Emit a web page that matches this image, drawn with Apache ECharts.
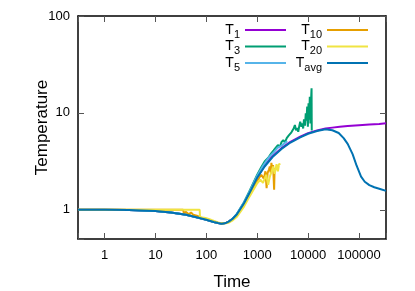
<!DOCTYPE html>
<html>
<head>
<meta charset="utf-8">
<script src="https://cdn.jsdelivr.net/npm/echarts@6/dist/echarts.min.js"></script>
<style>
html,body{margin:0;padding:0;background:#fff;}
#c{width:415px;height:291px;}
</style>
</head>
<body>
<div id="c"></div>
<script>
// ---- data ----
var timeAvg = [0.3, 1, 3, 10, 20, 40, 70, 100, 140, 170, 200, 240, 280, 330, 400, 550, 700, 1000, 1400, 2000, 3000, 4500, 7000, 10000, 15000, 22000, 30000, 40000, 50000, 60000, 75000, 90000, 110000, 130000, 160000, 200000, 260000, 340000];
var tAvg    = [1.0, 1.0, 0.995, 0.97, 0.94, 0.89, 0.83, 0.79, 0.75, 0.73, 0.72, 0.73, 0.76, 0.81, 0.9, 1.17, 1.48, 2.15, 2.8, 3.5, 4.25, 4.95, 5.6, 6.1, 6.5, 6.78, 6.62, 6.2, 5.5, 4.8, 3.75, 2.85, 2.2, 1.95, 1.8, 1.71, 1.64, 1.57];

var timeT1 = [0.3, 1, 3, 10, 20, 40, 70, 100, 140, 170, 200, 240, 280, 330, 400, 550, 700, 1000, 1400, 2000, 3000, 4500, 7000, 10000, 15000, 22000, 30000, 42000, 60000, 100000, 160000, 250000, 340000];
var t1     = [1.0, 1.0, 0.995, 0.97, 0.94, 0.89, 0.83, 0.79, 0.75, 0.73, 0.72, 0.73, 0.76, 0.81, 0.9, 1.17, 1.48, 2.17, 2.87, 3.58, 4.33, 5.03, 5.68, 6.18, 6.6, 6.9, 7.05, 7.2, 7.33, 7.48, 7.6, 7.7, 7.8];

var timeT3 = [0.3, 1, 3, 10, 20, 40, 70, 100, 140, 170, 200, 240, 280, 330, 400, 550, 700, 1000, 1200, 1400, 1650, 1900, 2100, 2300, 2550, 2800, 3000, 3250, 3500, 3800, 4100, 4400, 4700, 5000, 5200, 5500, 5800, 6100, 6400, 6700, 7000, 7400, 7700, 8000, 8300, 8700, 9000, 9300, 9600, 9900, 10200, 10500, 10800, 11100, 11400, 11700, 11800];
var t3     = [1.0, 1.0, 0.995, 0.97, 0.94, 0.89, 0.83, 0.79, 0.75, 0.73, 0.72, 0.73, 0.76, 0.81, 0.91, 1.2, 1.55, 2.3, 2.75, 3.15, 3.45, 3.85, 4.1, 4.35, 4.65, 4.5, 5.0, 5.25, 4.95, 5.5, 5.8, 5.6, 6.3, 6.1, 6.9, 7.5, 6.6, 7.0, 6.4, 7.3, 8.1, 7.2, 7.8, 6.9, 8.6, 7.4, 9.9, 8.3, 11.6, 7.2, 12.6, 8.5, 14.7, 7.8, 13.0, 18.0, 6.6];

var timeT5 = [0.3, 1, 3, 10, 20, 40, 70, 100, 140, 170, 200, 240, 280, 330, 400, 550, 700, 1000, 1300, 1700, 2100, 2500, 3000, 3500, 3900];
var t5     = [1.0, 1.0, 0.995, 0.97, 0.94, 0.89, 0.83, 0.79, 0.75, 0.73, 0.72, 0.73, 0.76, 0.81, 0.91, 1.19, 1.52, 2.25, 2.85, 3.5, 3.9, 4.35, 4.6, 4.9, 5.1];

var timeT10 = [0.3, 1, 3, 10, 20, 35, 36, 40, 45, 50, 55, 60, 65, 70, 80, 100, 140, 170, 200, 240, 280, 330, 400, 550, 700, 1000, 1200, 1350, 1450, 1530, 1600, 1700, 1770, 1850, 1900, 1980, 2050, 2100, 2150, 2200];
var t10     = [1.0, 1.0, 1.0, 1.0, 1.0, 1.0, 0.93, 0.95, 0.9, 0.94, 0.89, 0.92, 0.87, 0.86, 0.83, 0.8, 0.76, 0.735, 0.725, 0.73, 0.75, 0.8, 0.87, 1.12, 1.42, 2.0, 2.3, 2.1, 2.5, 1.67, 2.4, 2.6, 2.8, 2.4, 3.05, 2.6, 2.9, 3.0, 1.61, 2.7];

var timeT20 = [0.3, 1, 3, 10, 20, 40, 74, 75, 80, 90, 100, 115, 130, 150, 170, 200, 240, 280, 330, 400, 550, 700, 850, 1000, 1150, 1300, 1400, 1500, 1640, 1770, 1900, 2060, 2200, 2400, 2550, 2700, 2800];
var t20     = [1, 1, 1, 1, 1, 1, 1, 0.84, 0.86, 0.83, 0.82, 0.8, 0.78, 0.76, 0.74, 0.725, 0.725, 0.74, 0.78, 0.85, 1.08, 1.36, 1.62, 1.88, 2.05, 1.9, 1.96, 2.3, 1.81, 2.2, 2.45, 2.8, 2.35, 2.95, 2.5, 3.0, 2.9];

var seriesNames  = ['T1', 'T3', 'T5', 'T10', 'T20', 'Tavg'];
var seriesColors = ['#9400D3', '#009E73', '#56B4E9', '#E69F00', '#F0E442', '#0072B2'];
var xTickLabels = ['1', '10', '100', '1000', '10000', '100000'];
var yTickLabels = ['1', '10', '100'];

function zip(xs, ys) { return xs.map(function (x, i) { return [x, ys[i]]; }); }
var seriesData = [zip(timeT1, t1), zip(timeT3, t3), zip(timeT5, t5), zip(timeT10, t10), zip(timeT20, t20), zip(timeAvg, tAvg)];

var FONT = 'Liberation Sans, Arial, sans-serif';

function powLabel(list) {
  return function (v) {
    var l = Math.log10(v);
    if (Math.abs(l - Math.round(l)) > 1e-6) return '';
    var s = String(Math.round(Math.pow(10, Math.round(l))));
    return list.indexOf(s) >= 0 ? s : '';
  };
}

var axisLine = { show: true, onZero: false, lineStyle: { color: '#000', width: 1.5 } };
var axisTick = { show: true, inside: true, length: 6, lineStyle: { color: '#555', width: 1 } };

function legendFmt(name) { return '{m|T}{s|' + name.slice(1) + '}'; }
var legendText = {
  rich: {
    m: { fontSize: 14, lineHeight: 20, color: '#000', fontFamily: FONT },
    s: { fontSize: 11, lineHeight: 9, verticalAlign: 'bottom', color: '#000', fontFamily: FONT }
  }
};

function legendBlock(names, right) {
  return {
    data: names.map(function (n) { return { name: n, icon: 'rect' }; }),
    orient: 'vertical', align: 'right', right: right, top: 23, padding: 0,
    itemWidth: 41, itemHeight: 2, itemGap: -0.5,
    formatter: legendFmt, textStyle: legendText, selectedMode: false
  };
}

var chart = echarts.init(document.getElementById('c'), null, { renderer: 'canvas' });
chart.setOption({
  animation: false,
  backgroundColor: '#fff',
  grid: { left: 78, right: 29, top: 16, bottom: 52, outerBoundsMode: 'none', containLabel: false },
  legend: [legendBlock(seriesNames.slice(0, 3), 129), legendBlock(seriesNames.slice(3), 47)],
  xAxis: [
    { type: 'log', logBase: 10, min: 0.3, max: 340000, position: 'bottom',
      axisLine: axisLine, axisTick: axisTick, splitLine: { show: false }, minorTick: { show: false },
      axisLabel: { formatter: powLabel(xTickLabels), fontSize: 13, color: '#000', margin: 10, fontFamily: FONT },
      name: 'Time', nameLocation: 'middle', nameGap: 35, nameMoveOverlap: false,
      nameTextStyle: { fontSize: 17, color: '#000', fontFamily: FONT } },
    { type: 'log', logBase: 10, min: 0.3, max: 340000, position: 'top',
      axisLine: axisLine, axisTick: axisTick, splitLine: { show: false }, axisLabel: { show: false } }
  ],
  yAxis: [
    { type: 'log', logBase: 10, min: 0.5, max: 100, position: 'left',
      axisLine: axisLine, axisTick: axisTick, splitLine: { show: false }, minorTick: { show: false },
      axisLabel: { formatter: powLabel(yTickLabels), fontSize: 13, color: '#000', margin: 8, fontFamily: FONT },
      name: 'Temperature', nameLocation: 'middle', nameGap: 27, nameMoveOverlap: false,
      nameTextStyle: { fontSize: 17, color: '#000', fontFamily: FONT } },
    { type: 'log', logBase: 10, min: 0.5, max: 100, position: 'right',
      axisLine: axisLine, axisTick: axisTick, splitLine: { show: false }, axisLabel: { show: false } }
  ],
  series: seriesNames.map(function (n, i) {
    return {
      name: n, type: 'line', xAxisIndex: 0, yAxisIndex: 0,
      data: seriesData[i], symbol: 'none', showSymbol: false, smooth: false,
      lineStyle: { color: seriesColors[i], width: 2 }, itemStyle: { color: seriesColors[i] },
      clip: true
    };
  })
});
</script>
</body>
</html>
